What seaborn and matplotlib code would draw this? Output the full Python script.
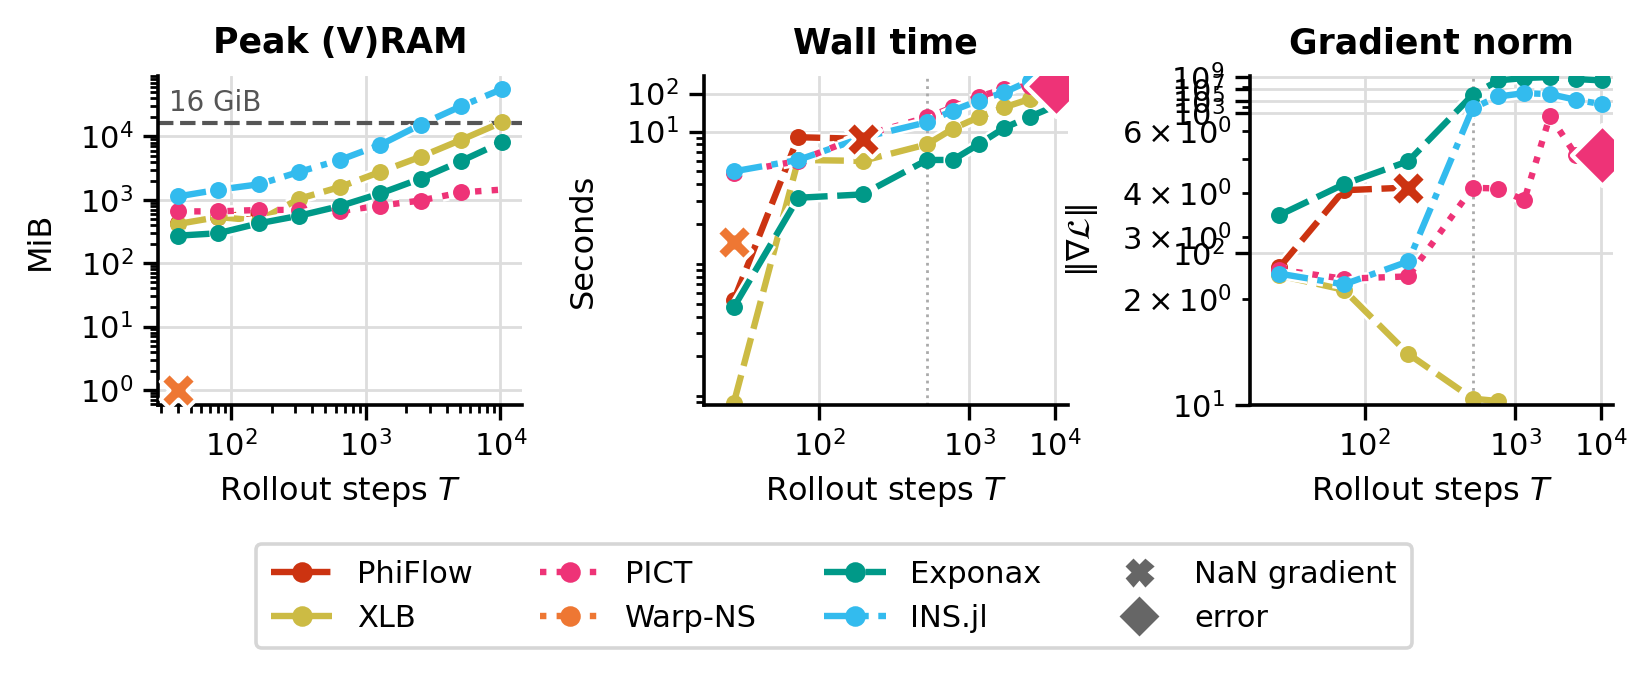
import numpy as np
import matplotlib
matplotlib.use("Agg")
import matplotlib.pyplot as plt
import matplotlib.patheffects as pe
from matplotlib import ticker
from matplotlib.lines import Line2D
import seaborn as sns

# rollout lengths shared by all panels
steps = [40, 80, 160, 320, 640, 1280, 2560, 5120, 10240]

solvers = ["PhiFlow", "XLB", "PICT", "Warp-NS", "Exponax", "INS.jl"]
solver_colors = ["#CC3311", "#CCBB44", "#EE3377", "#EE7733", "#009988", "#33BBEE"]
solver_styles = [(0, (3.9, 1.5)), (0, (4.5, 1.5)), (0, (1, 1.6)), (0, (1, 1.6)),
                 (0, (5, 1.5)), (0, (4.5, 1.5, 1, 1.5))]

# peak memory (MiB)
mem_phiflow = [430, 530, 640]
mem_xlb = [415, 535, 470, 1040, 1590, 2760, 4790, 8850, 16700]
mem_pict = [658, 658, 692, 692, 665, 811, 975, 1310, 1450]
mem_warp = [1.0]
mem_exponax = [272, 297, 425, 561, 795, 1260, 2160, 4100, 8100]
mem_insjl = [1130, 1445, 1754, 2760, 4250, 7360, 15400, 30100, 55700]
vram_limit = 16 * 1024

# wall time (s)
time_phiflow = [0.53, 9.06, 8.8]
time_xlb = [0.089, 6.1, 6.0, 8.0, 11.8, 23.8, 43.6, 72.5, 130]
time_pict = [4.9, 6.0, 9.3, 23.8, 43.6, 83.5, 132, 163]
time_warp = [1.47]
time_exponax = [0.47, 3.16, 3.35, 6.1, 6.1, 8.0, 12.5, 24.8, 48]
time_insjl = [5.0, 6.1, 9.0, 17.6, 35.7, 65.5, 108, 220, 400]

# gradient norm
grad_phiflow = [81, 261, 272]
grad_xlb = [71.5, 57.5, 21.7, 11.0, 10.6]
grad_pict = [78, 68, 70.5, 271, 268, 224, 807, 446]
grad_exponax = [179, 286, 406, 1.0e6, 2.5e8, 6.2e8, 9.0e8, 4.2e8, 2.5e8]
grad_insjl = [73.5, 62.4, 88.5, 6.2e3, 5.3e5, 1.9e6, 1.3e6, 1.5e5, 2.9e4]

error_step = 10240

LW = 2.3
MS = 6.1


def piecewise_log(brk, low, high):
    lb = np.log10(brk)

    def fwd(v):
        with np.errstate(all="ignore"):
            lv = np.log10(np.clip(np.asarray(v, float), 1e-12, None))
        return np.where(lv < lb, lb + low * (lv - lb), lb + high * (lv - lb))

    def inv(u):
        u = np.asarray(u, float)
        with np.errstate(all="ignore"):
            return np.where(u < lb, 10 ** (lb + (u - lb) / low), 10 ** (lb + (u - lb) / high))
    return fwd, inv


x_funcs = piecewise_log(320, 2.5, 1.0)
wall_funcs = piecewise_log(10, 1.0, 0.2864)
grad_funcs = piecewise_log(840, 1.0, 0.0397)


def draw_series(ax, name, values, end, z):
    i = solvers.index(name)
    c = solver_colors[i]
    x = steps[:len(values)]
    if len(values) > 1:
        sns.lineplot(x=x, y=values, ax=ax, color=c, lw=LW, ls=solver_styles[i],
                     errorbar=None, sort=False, zorder=z)
        ax.lines[-1].set_path_effects([pe.Stroke(linewidth=LW + 1.8, foreground="white"), pe.Normal()])
    n_dots = len(values) - 1 if end in ("nan", "bare") else len(values)
    if n_dots > 0:
        sns.scatterplot(x=x[:n_dots], y=values[:n_dots], ax=ax, color=c, s=MS ** 2,
                        linewidth=0, zorder=z + 0.01, legend=False)
    # NaN / error markers sit on top of everything
    if end == "nan":
        sns.scatterplot(x=[x[-1]], y=[values[-1]], ax=ax, color=c, marker="X", s=165,
                        edgecolor="white", linewidth=1.4, zorder=4, legend=False, clip_on=False)
    if end == "error":
        sns.scatterplot(x=[error_step], y=[values[-1]], ax=ax, color=c, marker="D", s=240,
                        edgecolor="white", linewidth=1.6, zorder=4, legend=False)


sns.set_theme(style="ticks")
plt.rcParams["font.family"] = ["DejaVu Sans"]
plt.rcParams.update({
    "text.color": "black", "axes.labelcolor": "black", "axes.edgecolor": "black",
    "xtick.color": "black", "ytick.color": "black",
    "axes.linewidth": 1.3,
    "xtick.major.size": 5.5, "ytick.major.size": 5.5,
    "xtick.minor.size": 3, "ytick.minor.size": 3,
    "xtick.major.width": 1.2, "ytick.major.width": 1.2,
    "xtick.minor.width": 1.0, "ytick.minor.width": 1.0,
    "xtick.labelsize": 11, "ytick.labelsize": 11,
    "axes.labelsize": 11.5,
})

fig, axes = plt.subplots(1, 3, figsize=(8.24, 3.38), dpi=200)
fig.subplots_adjust(left=0.096, right=0.979, bottom=0.401, top=0.888, wspace=0.5)
ax0, ax1, ax2 = axes

# --- Peak (V)RAM
ax0.set_xscale("log")
ax0.set_yscale("log")
ax0.axhline(vram_limit, color="#555555", ls="--", lw=1.5, zorder=1.5)
ax0.annotate("16 GiB", xy=(0.03, vram_limit), xycoords=("axes fraction", "data"),
             xytext=(0, 2), textcoords="offset points", va="bottom", ha="left",
             color="#555555", fontsize=10)
mem_series = [("PhiFlow", mem_phiflow, None), ("XLB", mem_xlb, None), ("PICT", mem_pict, "bare"),
              ("Warp-NS", mem_warp, "nan"), ("Exponax", mem_exponax, None), ("INS.jl", mem_insjl, None)]
for k, (name, vals, end) in enumerate(mem_series):
    draw_series(ax0, name, vals, end, 2 + 0.1 * k)
ax0.set_xlim(28.7, 14500)
ax0.set_ylim(0.58, 9.1e4)
for axis in (ax0.xaxis, ax0.yaxis):
    axis.set_major_locator(ticker.LogLocator(base=10, numticks=12))
    axis.set_minor_locator(ticker.LogLocator(base=10, subs=np.arange(2, 10), numticks=12))
    axis.set_minor_formatter(ticker.NullFormatter())
ax0.set_title("Peak (V)RAM", fontsize=12.5, fontweight="bold", pad=8)
ax0.set_ylabel("MiB")

# --- Wall time
ax1.set_xscale("function", functions=x_funcs)
ax1.set_yscale("function", functions=wall_funcs)
ax1.axvline(320, color="#aaaaaa", ls=":", lw=1, zorder=1.5)
time_series = [("PhiFlow", time_phiflow, "nan"), ("XLB", time_xlb, None), ("PICT", time_pict, "error"),
               ("Warp-NS", time_warp, "nan"), ("Exponax", time_exponax, None), ("INS.jl", time_insjl, None)]
for k, (name, vals, end) in enumerate(time_series):
    draw_series(ax1, name, vals, end, 2 + 0.1 * k)
ax1.set_ylim(0.086, 297)
ax1.set_yticks([10, 100], labels=[r"$10^{1}$", r"$10^{2}$"])
minor_sec = [m * 10.0 ** e for e in (-2, -1, 0) for m in range(1, 10) if 0.086 <= m * 10.0 ** e < 10]
ax1.yaxis.set_minor_locator(ticker.FixedLocator(minor_sec))
ax1.yaxis.set_minor_formatter(ticker.NullFormatter())
ax1.set_title("Wall time", fontsize=12.5, fontweight="bold", pad=8)
ax1.set_ylabel("Seconds")

# --- Gradient norm
ax2.set_xscale("function", functions=x_funcs)
ax2.set_yscale("function", functions=grad_funcs)
ax2.axvline(320, color="#aaaaaa", ls=":", lw=1, zorder=1.5)
grad_series = [("PhiFlow", grad_phiflow, "nan"), ("XLB", grad_xlb, None), ("PICT", grad_pict, "error"),
               ("Exponax", grad_exponax, None), ("INS.jl", grad_insjl, None)]
for k, (name, vals, end) in enumerate(grad_series):
    draw_series(ax2, name, vals, end, 2 + 0.1 * k)
ax2.set_ylim(10, 1.5e9)
grad_ticks = [10, 1e2, 1e3, 1e5, 1e7, 1e9]
ax2.set_yticks(grad_ticks, labels=[r"$10^{%d}$" % round(np.log10(t)) for t in grad_ticks])
ax2.yaxis.set_minor_locator(ticker.NullLocator())
ax2.set_title("Gradient norm", fontsize=12.5, fontweight="bold", pad=8)
ax2.set_ylabel(r"$\|\nabla\mathcal{L}\|$")

# second log axis on the left that carries the 2x10^0 ... labels
axu = ax2.twinx()
axu.set_yscale("log")
axu.set_ylim(1, 8.6)
axu.yaxis.tick_left()
axu.yaxis.set_major_locator(ticker.NullLocator())
axu.tick_params(axis="y", which="minor", labelsize=11, length=3, width=1.0, colors="black")
for s in axu.spines.values():
    s.set_visible(False)

for ax in (ax1, ax2):
    ax.set_xlim(29, 14100)
    ax.set_xticks([100, 1000, 10000], labels=[r"$10^{2}$", r"$10^{3}$", r"$10^{4}$"])
    ax.xaxis.set_minor_locator(ticker.NullLocator())

for ax in axes:
    ax.grid(True, which="major", color="#dddddd", lw=1.0)
    ax.set_axisbelow(True)
    ax.set_xlabel("Rollout steps $T$")
    sns.despine(ax=ax)

ax0.yaxis.set_label_coords(-0.28, 0.5)
ax1.yaxis.set_label_coords(-0.29, 0.5)
ax2.yaxis.set_label_coords(-0.41, 0.5)

handles = [Line2D([], [], color=c, ls=s, lw=LW, marker="o", ms=MS + 0.3, label=n)
           for n, c, s in zip(solvers, solver_colors, solver_styles)]
handles += [Line2D([], [], ls="none", marker="X", color="#666666", ms=9, label="NaN gradient"),
            Line2D([], [], ls="none", marker="D", color="#666666", ms=9, label="error")]
leg = fig.legend(handles=handles, ncol=4, loc="center", bbox_to_anchor=(0.506, 0.118),
                 fontsize=11, frameon=True, fancybox=True, columnspacing=2.2,
                 handlelength=2.0, borderpad=0.5)
leg.get_frame().set_edgecolor("#cccccc")
leg.get_frame().set_linewidth(1.3)

fig.savefig("out.png", dpi=200)
